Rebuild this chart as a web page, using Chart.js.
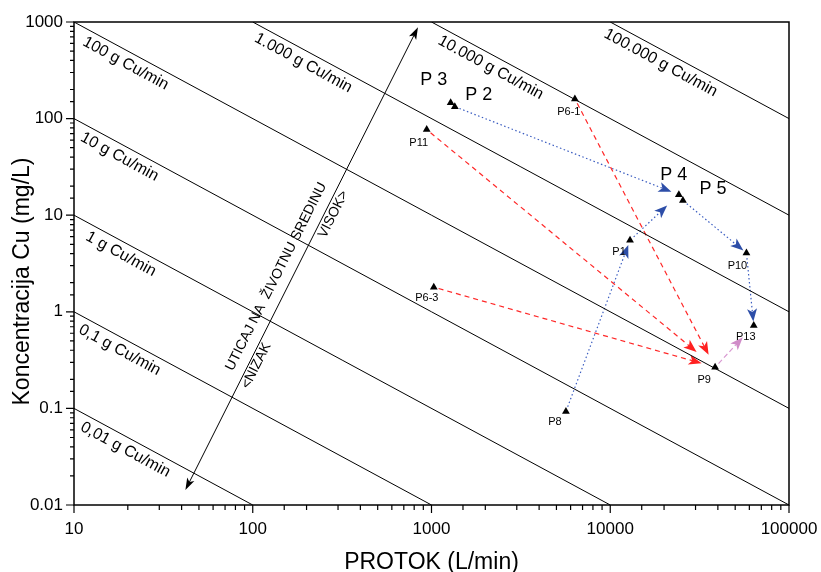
<!DOCTYPE html>
<html>
<head>
<meta charset="utf-8">
<script src="https://cdn.jsdelivr.net/npm/chart.js@4.4.1/dist/chart.umd.min.js"></script>
<style>
body { margin: 0; background: #fff; }
#wrap { width: 821px; height: 572px; }
</style>
</head>
<body>
<div id="wrap"><canvas id="cu-chart" width="821" height="572"></canvas></div>
<script>
// sampling points: flow (L/min) and Cu concentration (mg/L)
const pointNames = ['P 3', 'P 2', 'P6-1', 'P11', 'P 4', 'P 5', 'P1', 'P10', 'P6-3', 'P13', 'P9', 'P8'];
const flowValues = [1280, 1350, 6340, 940, 24200, 25500, 12900, 57800, 1030, 63500, 38600, 5650];
const cuValues = [146, 133, 160, 77, 16.3, 14.2, 5.5, 4.05, 1.8, 0.72, 0.267, 0.093];

// constant load lines (flow x concentration)
const loadValues = [1, 10, 100, 1000, 10000, 100000, 1000000, 10000000];
const loadLabels = ['0,01 g Cu/min', '0,1 g Cu/min', '1 g Cu/min', '10 g Cu/min', '100 g Cu/min',
    '1.000 g Cu/min', '10.000 g Cu/min', '100.000 g Cu/min'];

const xTickLabels = ['10', '100', '1000', '10000', '100000'];
const yTickLabels = ['0.01', '0.1', '1', '10', '100', '1000'];

// flow paths between points
const bluePaths = [['P 2', 'P 4'], ['P8', 'P1'], ['P1', 'P 4'], ['P 5', 'P10'], ['P10', 'P13']];
const redPaths = [['P11', 'P9'], ['P6-1', 'P9'], ['P6-3', 'P9']];
const pinkPaths = [['P9', 'P13']];

// impact arrow ends (flow, conc)
const impactFrom = [42, 0.0143];
const impactTo = [840, 880];

const xMin = 10, xMax = 100000, yMin = 0.01, yMax = 1000;
const FONT = '"Liberation Sans", Arial, sans-serif';

// label offsets [dx, dy, font size]
const pointLabelStyle = {
    'P 3': [-17, -23, 18], 'P 2': [24, -12, 18], 'P 4': [-5, -20, 18], 'P 5': [30, -11, 18],
    'P6-1': [-6, 13, 11], 'P11': [-8, 13, 11], 'P1': [-11, 12, 11], 'P10': [-9, 13, 11],
    'P6-3': [-7, 11, 11], 'P13': [-8, 11, 11], 'P9': [-11, 13, 11], 'P8': [-11, 11, 11]
};
const loadLabelShift = [15, 13, 21, 15, 17.6, 9.7, 15, 0.6];
// gap before target (px)
const pathGap = {
    'P 2>P 4': 8, 'P8>P1': 5, 'P1>P 4': 16, 'P 5>P10': 4, 'P10>P13': 4,
    'P11>P9': 24, 'P6-1>P9': 14, 'P6-3>P9': 14, 'P9>P13': 16
};

const idx = name => pointNames.indexOf(name);

const loadDatasets = loadValues.map(k => {
    const q0 = Math.max(xMin, k / yMax);
    const q1 = Math.min(xMax, k / yMin);
    return {
        type: 'line',
        data: [{x: q0, y: k / q0}, {x: q1, y: k / q1}],
        borderColor: '#000',
        borderWidth: 1,
        pointRadius: 0,
        fill: false
    };
});

const pointDataset = {
    type: 'scatter',
    data: flowValues.map((q, i) => ({x: q, y: cuValues[i]})),
    pointStyle: 'triangle',
    pointRadius: 4.5,
    backgroundColor: '#000',
    borderColor: '#000',
    borderWidth: 0
};

function px(chart, q, c) {
    return {x: chart.scales.x.getPixelForValue(q), y: chart.scales.y.getPixelForValue(c)};
}

function arrowHead(ctx, tx, ty, ang, len, half, color) {
    const ux = Math.cos(ang), uy = Math.sin(ang);
    ctx.save();
    ctx.setLineDash([]);
    ctx.fillStyle = color;
    ctx.beginPath();
    ctx.moveTo(tx, ty);
    ctx.lineTo(tx - ux * len - uy * half, ty - uy * len + ux * half);
    ctx.lineTo(tx - ux * len * 0.75, ty - uy * len * 0.75);
    ctx.lineTo(tx - ux * len + uy * half, ty - uy * len - ux * half);
    ctx.closePath();
    ctx.fill();
    ctx.restore();
}

function drawPath(chart, pair, color, headColor, dash) {
    const ctx = chart.ctx;
    const a = px(chart, flowValues[idx(pair[0])], cuValues[idx(pair[0])]);
    const b = px(chart, flowValues[idx(pair[1])], cuValues[idx(pair[1])]);
    const ang = Math.atan2(b.y - a.y, b.x - a.x);
    const ux = Math.cos(ang), uy = Math.sin(ang);
    const gap = pathGap[pair[0] + '>' + pair[1]] || 6;
    const sx = a.x + ux * 5, sy = a.y + uy * 5;
    const tx = b.x - ux * gap, ty = b.y - uy * gap;
    ctx.save();
    ctx.strokeStyle = color;
    ctx.lineWidth = 1.2;
    ctx.setLineDash(dash);
    ctx.beginPath();
    ctx.moveTo(sx, sy);
    ctx.lineTo(tx - ux * 9, ty - uy * 9);
    ctx.stroke();
    ctx.restore();
    arrowHead(ctx, tx, ty, ang, 13, 5, headColor);
}

const overlay = {
    id: 'overlay',
    beforeDatasetDraw(chart, args) {
        if (args.index !== loadDatasets.length) return;
        bluePaths.forEach(p => drawPath(chart, p, '#3a5cc0', '#2d4ea8', [1.5, 2.5]));
        redPaths.forEach(p => drawPath(chart, p, '#ff2828', '#ff2020', [5, 4]));
        pinkPaths.forEach(p => drawPath(chart, p, '#d99ad2', '#d08cc8', [5, 3]));
    },
    afterDatasetsDraw(chart) {
        const ctx = chart.ctx;
        // load line labels
        ctx.save();
        ctx.fillStyle = '#000';
        ctx.font = '16px ' + FONT;
        ctx.textBaseline = 'top';
        ctx.textAlign = 'left';
        loadDatasets.forEach((ds, i) => {
            const p0 = px(chart, ds.data[0].x, ds.data[0].y);
            const p1 = px(chart, ds.data[1].x, ds.data[1].y);
            const ang = Math.atan2(p1.y - p0.y, p1.x - p0.x);
            ctx.save();
            ctx.translate(p0.x + Math.cos(ang) * loadLabelShift[i], p0.y + Math.sin(ang) * loadLabelShift[i]);
            ctx.rotate(ang);
            ctx.fillText(loadLabels[i], 0, 4);
            ctx.restore();
        });
        ctx.restore();

        // impact arrow
        const a = px(chart, impactFrom[0], impactFrom[1]);
        const b = px(chart, impactTo[0], impactTo[1]);
        const ang = Math.atan2(b.y - a.y, b.x - a.x);
        const ux = Math.cos(ang), uy = Math.sin(ang);
        const len = Math.hypot(b.x - a.x, b.y - a.y);
        ctx.save();
        ctx.strokeStyle = '#000';
        ctx.lineWidth = 1;
        ctx.beginPath();
        ctx.moveTo(a.x + ux * 8, a.y + uy * 8);
        ctx.lineTo(b.x - ux * 8, b.y - uy * 8);
        ctx.stroke();
        ctx.restore();
        arrowHead(ctx, b.x, b.y, ang, 12, 4, '#000');
        arrowHead(ctx, a.x, a.y, ang + Math.PI, 12, 4, '#000');

        const texts = [['UTICAJ NA  ŽIVOTNU SREDINU', 0.447, -14.7], ['VISOK>', 0.604, 8.4], ['<NIZAK', 0.276, 7.5]];
        ctx.save();
        ctx.fillStyle = '#000';
        ctx.font = '14px ' + FONT;
        ctx.textAlign = 'center';
        ctx.textBaseline = 'middle';
        texts.forEach(t => {
            ctx.save();
            ctx.translate(a.x + ux * len * t[1], a.y + uy * len * t[1]);
            ctx.rotate(ang);
            ctx.fillText(t[0], 0, t[2]);
            ctx.restore();
        });
        ctx.restore();

        // point labels
        ctx.save();
        ctx.fillStyle = '#000';
        ctx.textAlign = 'center';
        ctx.textBaseline = 'middle';
        pointNames.forEach((name, i) => {
            const p = px(chart, flowValues[i], cuValues[i]);
            const s = pointLabelStyle[name];
            ctx.font = s[2] + 'px ' + FONT;
            ctx.fillText(name, p.x + s[0], p.y + s[1]);
        });
        ctx.restore();
    },
    afterDraw(chart) {
        const ctx = chart.ctx;
        const area = chart.chartArea;
        ctx.save();
        ctx.strokeStyle = '#000';
        ctx.lineWidth = 1.5;
        ctx.strokeRect(area.left, area.top, area.right - area.left, area.bottom - area.top);
        ctx.lineWidth = 1.2;
        ctx.beginPath();
        chart.scales.x.ticks.forEach(t => {
            const x = chart.scales.x.getPixelForValue(t.value);
            const l = t.label ? 8 : 5;
            ctx.moveTo(x, area.bottom);
            ctx.lineTo(x, area.bottom + l);
        });
        chart.scales.y.ticks.forEach(t => {
            const y = chart.scales.y.getPixelForValue(t.value);
            const l = t.label ? 8 : 4;
            ctx.moveTo(area.left, y);
            ctx.lineTo(area.left - l, y);
        });
        ctx.stroke();

        // axis titles
        ctx.fillStyle = '#000';
        ctx.font = '23px ' + FONT;
        ctx.textAlign = 'center';
        ctx.textBaseline = 'middle';
        ctx.fillText('PROTOK (L/min)', (area.left + area.right) / 2, 563);
        ctx.translate(23, (area.top + area.bottom) / 2 + 18);
        ctx.rotate(-Math.PI / 2);
        ctx.fillText('Koncentracija Cu (mg/L)', 0, 0);
        ctx.restore();
    }
};

const chart = document.querySelector('#cu-chart').getContext('2d');

new Chart(chart, {
    type: 'scatter',
    data: {
        datasets: [...loadDatasets, pointDataset]
    },
    options: {
        responsive: false,
        animation: false,
        layout: {padding: {top: 22, right: 32, left: 0, bottom: 0}},
        plugins: {legend: {display: false}, tooltip: {enabled: false}},
        scales: {
            x: {
                type: 'logarithmic',
                min: xMin,
                max: xMax,
                grid: {display: false, drawTicks: false},
                border: {display: false},
                afterFit: s => { s.height = 67; s.paddingLeft = 0; s.paddingRight = 0; },
                ticks: {
                    autoSkip: false,
                    maxRotation: 0,
                    padding: 14,
                    color: '#000',
                    font: {family: FONT, size: 17},
                    callback: v => {
                        const e = Math.log10(v);
                        if (Math.abs(e - Math.round(e)) > 1e-6) return '';
                        return xTickLabels[Math.round(e) - 1] || '';
                    }
                }
            },
            y: {
                type: 'logarithmic',
                min: yMin,
                max: yMax,
                grid: {display: false, drawTicks: false},
                border: {display: false},
                afterFit: s => { s.width = 74; s.paddingTop = 0; s.paddingBottom = 0; },
                ticks: {
                    autoSkip: false,
                    padding: 11,
                    color: '#000',
                    font: {family: FONT, size: 17},
                    callback: v => {
                        const e = Math.log10(v);
                        if (Math.abs(e - Math.round(e)) > 1e-6) return '';
                        return yTickLabels[Math.round(e) + 2] || '';
                    }
                }
            }
        }
    },
    plugins: [overlay]
});
</script>
</body>
</html>
